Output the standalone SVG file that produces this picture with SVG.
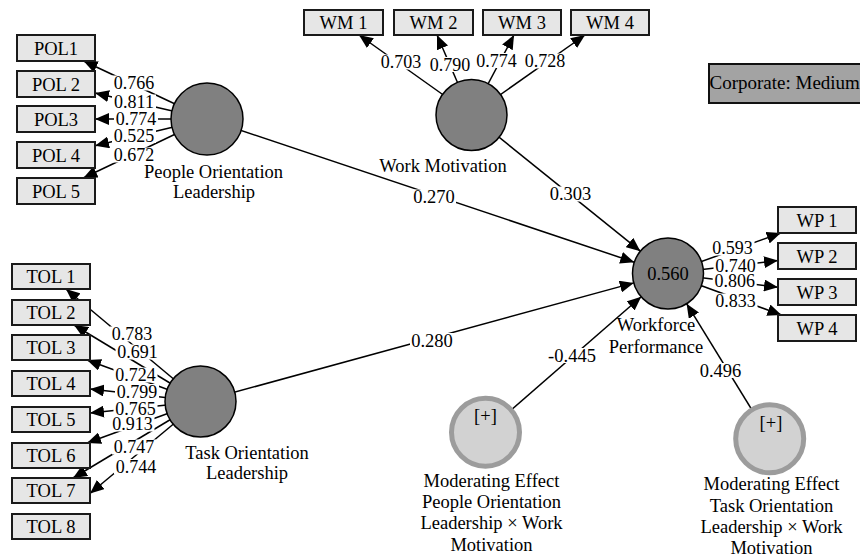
<svg xmlns="http://www.w3.org/2000/svg" width="860" height="558" viewBox="0 0 860 558">
<style>
text{font-family:"Liberation Serif","Times New Roman",serif;font-size:18.5px;fill:#000}
.c{text-anchor:middle}
.n{font-size:18px}
.box{fill:#e6e6e6;stroke:#1a1a1a;stroke-width:2}
.lv{fill:#808080;stroke:#000;stroke-width:1.5}
.mod{fill:#d2d2d2;stroke:#9c9c9c;stroke-width:5}
.ln{stroke:#000;stroke-width:1.5;fill:none;marker-end:url(#ah)}
.bg{fill:#fff}
</style>
<defs>
<marker id="ah" markerUnits="userSpaceOnUse" markerWidth="14" markerHeight="12" viewBox="0 0 14 12" refX="14" refY="6" orient="auto">
<path d="M0,0 L14,6 L0,12 z" fill="#000"/>
</marker>
</defs>
<rect width="860" height="558" fill="#fff"/>

<g id="connectors">
<path class="ln" d="M207,119 L83.6,61"/>
<path class="ln" d="M207,119 L95,93"/>
<path class="ln" d="M207,119 L95,119"/>
<path class="ln" d="M207,119 L95,145.7"/>
<path class="ln" d="M207,119 L83.3,178"/>
<path class="ln" d="M471.5,115 L359,35"/>
<path class="ln" d="M471.5,115 L437,35"/>
<path class="ln" d="M471.5,115 L514,35"/>
<path class="ln" d="M471.5,115 L585,35"/>
<path class="ln" d="M200.5,401.5 L65.9,289"/>
<path class="ln" d="M200.5,401.5 L74,325"/>
<path class="ln" d="M200.5,401.5 L87,360"/>
<path class="ln" d="M200.5,401.5 L90,389"/>
<path class="ln" d="M200.5,401.5 L90,413"/>
<path class="ln" d="M200.5,401.5 L87,443"/>
<path class="ln" d="M200.5,401.5 L73,478"/>
<path class="ln" d="M200.5,401.5 L90,493.5"/>
<path class="ln" d="M668,273.5 L780.8,233"/>
<path class="ln" d="M668,273.5 L778,260.6"/>
<path class="ln" d="M668,273.5 L778,287.2"/>
<path class="ln" d="M668,273.5 L781.5,315"/>
<path class="ln" d="M207,119 L634.3,262.2"/>
<path class="ln" d="M471.5,115 L640.4,251.2"/>
<path class="ln" d="M200.5,401.5 L633.8,282.9"/>
<path class="ln" d="M485.5,432.2 L641.2,296.8"/>
<path class="ln" d="M769.7,438.8 L686.6,303.7"/>
<g id="connector-label-bg">
<rect class="bg" x="112" y="75.5" width="44" height="15"/>
<rect class="bg" x="112" y="94.5" width="44" height="15"/>
<rect class="bg" x="114" y="111.5" width="44" height="15"/>
<rect class="bg" x="112" y="128" width="44" height="15"/>
<rect class="bg" x="112" y="147.5" width="44" height="15"/>
<rect class="bg" x="379" y="54.5" width="44" height="15"/>
<rect class="bg" x="428" y="57" width="44" height="15"/>
<rect class="bg" x="474.5" y="53" width="44" height="15"/>
<rect class="bg" x="523" y="53.5" width="44" height="15"/>
<rect class="bg" x="110" y="326.5" width="44" height="15"/>
<rect class="bg" x="115.5" y="344.5" width="44" height="15"/>
<rect class="bg" x="113.5" y="367.5" width="44" height="15"/>
<rect class="bg" x="115" y="384" width="44" height="15"/>
<rect class="bg" x="113.5" y="401" width="44" height="15"/>
<rect class="bg" x="110.5" y="416.5" width="44" height="15"/>
<rect class="bg" x="112" y="439.5" width="44" height="15"/>
<rect class="bg" x="114" y="459" width="44" height="15"/>
<rect class="bg" x="710.5" y="240.5" width="44" height="15"/>
<rect class="bg" x="713.5" y="258" width="44" height="15"/>
<rect class="bg" x="712.7" y="273.5" width="44" height="15"/>
<rect class="bg" x="713.5" y="293.5" width="44" height="15"/>
<rect class="bg" x="412" y="189.5" width="44" height="15"/>
<rect class="bg" x="548.5" y="186.5" width="44" height="15"/>
<rect class="bg" x="410" y="333" width="44" height="15"/>
<rect class="bg" x="547" y="348" width="50" height="15"/>
<rect class="bg" x="698.5" y="363" width="44" height="15"/>
</g>
<g id="connector-labels">
<text x="134" y="89" class="c n">0.766</text>
<text x="134" y="108" class="c n">0.811</text>
<text x="136" y="125" class="c n">0.774</text>
<text x="134" y="141.5" class="c n">0.525</text>
<text x="134" y="161" class="c n">0.672</text>
<text x="401" y="68" class="c n">0.703</text>
<text x="450" y="70.5" class="c n">0.790</text>
<text x="496.5" y="66.5" class="c n">0.774</text>
<text x="545" y="67" class="c n">0.728</text>
<text x="132" y="340" class="c n">0.783</text>
<text x="137.5" y="358" class="c n">0.691</text>
<text x="135.5" y="381" class="c n">0.724</text>
<text x="137" y="397.5" class="c n">0.799</text>
<text x="135.5" y="414.5" class="c n">0.765</text>
<text x="132.5" y="430" class="c n">0.913</text>
<text x="134" y="453" class="c n">0.747</text>
<text x="136" y="472.5" class="c n">0.744</text>
<text x="732.5" y="254" class="c n">0.593</text>
<text x="735.5" y="271.5" class="c n">0.740</text>
<text x="734.7" y="287" class="c n">0.806</text>
<text x="735.5" y="307" class="c n">0.833</text>
<text x="434" y="203" class="c">0.270</text>
<text x="570.5" y="200" class="c">0.303</text>
<text x="432" y="346.5" class="c">0.280</text>
<text x="572" y="361.5" class="c">-0.445</text>
<text x="720.5" y="376.5" class="c">0.496</text>
</g>
</g>

<g id="POL1"><rect class="box" x="17" y="35" width="78" height="26"/><text x="56" y="54.5" class="c">POL1</text></g>
<g id="POL2"><rect class="box" x="17" y="71" width="78" height="26"/><text x="56" y="90.5" class="c">POL 2</text></g>
<g id="POL3"><rect class="box" x="17" y="106" width="78" height="26"/><text x="56" y="125.5" class="c">POL3</text></g>
<g id="POL4"><rect class="box" x="17" y="142" width="78" height="26"/><text x="56" y="161.5" class="c">POL 4</text></g>
<g id="POL5"><rect class="box" x="17" y="178" width="78" height="26"/><text x="56" y="197.5" class="c">POL 5</text></g>

<g id="WM1"><rect class="box" x="304" y="10" width="79" height="25"/><text x="343.5" y="29" class="c">WM 1</text></g>
<g id="WM2"><rect class="box" x="394" y="10" width="79" height="25"/><text x="433.5" y="29" class="c">WM 2</text></g>
<g id="WM3"><rect class="box" x="483" y="10" width="78" height="25"/><text x="522" y="29" class="c">WM 3</text></g>
<g id="WM4"><rect class="box" x="571" y="10" width="78" height="25"/><text x="610" y="29" class="c">WM 4</text></g>

<g id="TOL1"><rect class="box" x="12" y="264" width="78" height="25"/><text x="51" y="283" class="c">TOL 1</text></g>
<g id="TOL2"><rect class="box" x="12" y="300" width="78" height="25"/><text x="51" y="319" class="c">TOL 2</text></g>
<g id="TOL3"><rect class="box" x="12" y="335" width="78" height="25"/><text x="51" y="354" class="c">TOL 3</text></g>
<g id="TOL4"><rect class="box" x="12" y="371" width="78" height="25"/><text x="51" y="390" class="c">TOL 4</text></g>
<g id="TOL5"><rect class="box" x="12" y="407" width="78" height="25"/><text x="51" y="426" class="c">TOL 5</text></g>
<g id="TOL6"><rect class="box" x="12" y="443" width="78" height="25"/><text x="51" y="462" class="c">TOL 6</text></g>
<g id="TOL7"><rect class="box" x="12" y="478" width="78" height="25"/><text x="51" y="497" class="c">TOL 7</text></g>
<g id="TOL8"><rect class="box" x="12" y="514" width="78" height="25"/><text x="51" y="533" class="c">TOL 8</text></g>

<g id="WP1"><rect class="box" x="778" y="207" width="78" height="26"/><text x="817" y="226.5" class="c">WP 1</text></g>
<g id="WP2"><rect class="box" x="778" y="243" width="78" height="26"/><text x="817" y="262.5" class="c">WP 2</text></g>
<g id="WP3"><rect class="box" x="778" y="279" width="78" height="26"/><text x="817" y="298.5" class="c">WP 3</text></g>
<g id="WP4"><rect class="box" x="778" y="315" width="78" height="26"/><text x="817" y="334.5" class="c">WP 4</text></g>

<g id="corporate"><rect x="709" y="64" width="160" height="39" fill="#a3a3a3" stroke="#111" stroke-width="2"/><text x="709.5" y="89" style="font-size:19px">Corporate: Medium</text></g>

<g id="POL"><circle class="lv" cx="207" cy="119" r="36"/><text x="213.5" y="177.5" class="c">People Orientation</text><text x="214" y="197.5" class="c">Leadership</text></g>
<g id="WM"><circle class="lv" cx="471.5" cy="115" r="35.5"/><text x="443" y="172" class="c">Work Motivation</text></g>
<g id="TOL"><circle class="lv" cx="200.5" cy="401.5" r="35.5"/><text x="247" y="459" class="c">Task Orientation</text><text x="247" y="479" class="c">Leadership</text></g>
<g id="WF"><circle class="lv" cx="668" cy="273.5" r="35.5"/><text x="668" y="280" class="c">0.560</text><text x="656" y="331" class="c">Workforce</text><text x="656" y="353" class="c">Performance</text></g>
<g id="MOD1"><circle class="mod" cx="485.5" cy="432.2" r="34"/><text x="485.5" y="421.5" class="c">[+]</text>
<text x="491.5" y="487" class="c">Moderating Effect</text><text x="491.5" y="508" class="c">People Orientation</text><text x="491.5" y="529" class="c">Leadership × Work</text><text x="491.5" y="550.5" class="c">Motivation</text></g>
<g id="MOD2"><circle class="mod" cx="769.7" cy="438.8" r="34"/><text x="771" y="429" class="c">[+]</text>
<text x="771.5" y="489.5" class="c">Moderating Effect</text><text x="771.5" y="511.5" class="c">Task Orientation</text><text x="771.5" y="533" class="c">Leadership × Work</text><text x="771.5" y="553.5" class="c">Motivation</text></g>
</svg>
